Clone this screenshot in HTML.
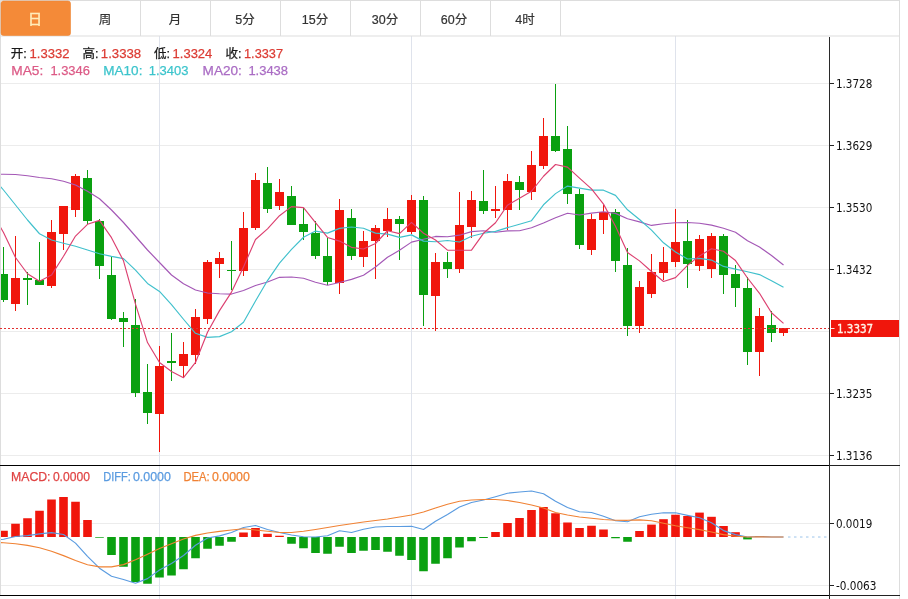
<!DOCTYPE html>
<html lang="zh"><head><meta charset="utf-8"><title>K线图</title>
<style>html,body{margin:0;padding:0;background:#fff}body{width:908px;height:599px;overflow:hidden}</style></head>
<body>
<svg width="908" height="599" viewBox="0 0 908 599" style="display:block">
<rect width="908" height="599" fill="#fff"/>
<rect x="0" y="83" width="829" height="1" fill="#ececec"/>
<rect x="0" y="145" width="829" height="1" fill="#ececec"/>
<rect x="0" y="207" width="829" height="1" fill="#ececec"/>
<rect x="0" y="269" width="829" height="1" fill="#ececec"/>
<rect x="0" y="331" width="829" height="1" fill="#ececec"/>
<rect x="0" y="393" width="829" height="1" fill="#ececec"/>
<rect x="0" y="455" width="829" height="1" fill="#ececec"/>
<rect x="0" y="523" width="829" height="1" fill="#ececec"/>
<rect x="0" y="585" width="829" height="1" fill="#ececec"/>
<rect x="159.0" y="36" width="1" height="563" fill="#dfe3ec"/>
<rect x="411.0" y="36" width="1" height="563" fill="#dfe3ec"/>
<rect x="675.0" y="36" width="1" height="563" fill="#dfe3ec"/>
<rect x="0" y="0" width="900" height="1" fill="#ddd"/>
<rect x="0" y="0" width="1" height="596" fill="#ddd"/>
<rect x="899" y="0" width="1" height="599" fill="#ddd"/>
<rect x="0" y="35.5" width="900" height="1" fill="#ddd"/>
<rect x="140" y="0" width="1" height="36" fill="#ddd"/>
<rect x="210" y="0" width="1" height="36" fill="#ddd"/>
<rect x="280" y="0" width="1" height="36" fill="#ddd"/>
<rect x="350" y="0" width="1" height="36" fill="#ddd"/>
<rect x="420" y="0" width="1" height="36" fill="#ddd"/>
<rect x="490" y="0" width="1" height="36" fill="#ddd"/>
<rect x="560" y="0" width="1" height="36" fill="#ddd"/>
<rect x="1" y="1" width="69.5" height="34.5" rx="2.5" fill="#f48a38" stroke="#ec8433" stroke-width="0.6"/>
<text x="35" y="24.2" font-size="14" text-anchor="middle" fill="#ffedba" stroke="#ffedba" stroke-width="0.5" font-family="Liberation Sans, Noto Sans CJK SC, sans-serif">日</text>
<text x="105" y="24.2" font-size="12.5" text-anchor="middle" fill="#333" stroke="#333" stroke-width="0.2" font-family="Liberation Sans, Noto Sans CJK SC, sans-serif">周</text>
<text x="175" y="24.2" font-size="12.5" text-anchor="middle" fill="#333" stroke="#333" stroke-width="0.2" font-family="Liberation Sans, Noto Sans CJK SC, sans-serif">月</text>
<text x="245" y="24.2" font-size="12.5" text-anchor="middle" fill="#333" stroke="#333" stroke-width="0.2" font-family="Liberation Sans, Noto Sans CJK SC, sans-serif">5分</text>
<text x="315" y="24.2" font-size="12.5" text-anchor="middle" fill="#333" stroke="#333" stroke-width="0.2" font-family="Liberation Sans, Noto Sans CJK SC, sans-serif">15分</text>
<text x="385" y="24.2" font-size="12.5" text-anchor="middle" fill="#333" stroke="#333" stroke-width="0.2" font-family="Liberation Sans, Noto Sans CJK SC, sans-serif">30分</text>
<text x="454" y="24.2" font-size="12.5" text-anchor="middle" fill="#333" stroke="#333" stroke-width="0.2" font-family="Liberation Sans, Noto Sans CJK SC, sans-serif">60分</text>
<text x="525" y="24.2" font-size="12.5" text-anchor="middle" fill="#333" stroke="#333" stroke-width="0.2" font-family="Liberation Sans, Noto Sans CJK SC, sans-serif">4时</text>
<g clip-path="url(#cp)">
<defs><clipPath id="cp"><rect x="1" y="37" width="828" height="560"/></clipPath></defs>
<rect x="3.0" y="247" width="1" height="55" fill="#0aa010"/>
<rect x="-1.0" y="274" width="9" height="26" fill="#0aa010"/>
<rect x="15.0" y="236" width="1" height="75" fill="#f0160c"/>
<rect x="11.0" y="278" width="9" height="26" fill="#f0160c"/>
<rect x="27.0" y="272" width="1" height="33" fill="#0aa010"/>
<rect x="23.0" y="278" width="9" height="2" fill="#0aa010"/>
<rect x="39.0" y="242" width="1" height="43" fill="#0aa010"/>
<rect x="35.0" y="280" width="9" height="5" fill="#0aa010"/>
<rect x="51.0" y="220" width="1" height="68" fill="#f0160c"/>
<rect x="47.0" y="232" width="9" height="54" fill="#f0160c"/>
<rect x="63.0" y="206" width="1" height="44" fill="#f0160c"/>
<rect x="59.0" y="206" width="9" height="28" fill="#f0160c"/>
<rect x="75.0" y="174" width="1" height="43" fill="#f0160c"/>
<rect x="71.0" y="176" width="9" height="34" fill="#f0160c"/>
<rect x="87.0" y="170" width="1" height="54" fill="#0aa010"/>
<rect x="83.0" y="178" width="9" height="43" fill="#0aa010"/>
<rect x="99.0" y="219" width="1" height="60" fill="#0aa010"/>
<rect x="95.0" y="221" width="9" height="45" fill="#0aa010"/>
<rect x="111.0" y="256" width="1" height="64" fill="#0aa010"/>
<rect x="107.0" y="275" width="9" height="44" fill="#0aa010"/>
<rect x="123.0" y="312" width="1" height="35" fill="#0aa010"/>
<rect x="119.0" y="318" width="9" height="4" fill="#0aa010"/>
<rect x="135.0" y="299" width="1" height="98" fill="#0aa010"/>
<rect x="131.0" y="325" width="9" height="68" fill="#0aa010"/>
<rect x="147.0" y="364" width="1" height="60" fill="#0aa010"/>
<rect x="143.0" y="392" width="9" height="21" fill="#0aa010"/>
<rect x="159.0" y="346" width="1" height="106" fill="#f0160c"/>
<rect x="155.0" y="366" width="9" height="48" fill="#f0160c"/>
<rect x="171.0" y="333" width="1" height="48" fill="#0aa010"/>
<rect x="167.0" y="361" width="9" height="2" fill="#0aa010"/>
<rect x="183.0" y="342" width="1" height="35" fill="#f0160c"/>
<rect x="179.0" y="354" width="9" height="12" fill="#f0160c"/>
<rect x="195.0" y="309" width="1" height="55" fill="#f0160c"/>
<rect x="191.0" y="317" width="9" height="38" fill="#f0160c"/>
<rect x="207.0" y="260" width="1" height="64" fill="#f0160c"/>
<rect x="203.0" y="262" width="9" height="57" fill="#f0160c"/>
<rect x="219.0" y="252" width="1" height="26" fill="#f0160c"/>
<rect x="215.0" y="258" width="9" height="6" fill="#f0160c"/>
<rect x="231.0" y="241" width="1" height="49" fill="#0aa010"/>
<rect x="227.0" y="270" width="9" height="1" fill="#0aa010"/>
<rect x="243.0" y="212" width="1" height="64" fill="#f0160c"/>
<rect x="239.0" y="228" width="9" height="43" fill="#f0160c"/>
<rect x="255.0" y="173" width="1" height="57" fill="#f0160c"/>
<rect x="251.0" y="180" width="9" height="48" fill="#f0160c"/>
<rect x="267.0" y="167" width="1" height="46" fill="#0aa010"/>
<rect x="263.0" y="183" width="9" height="26" fill="#0aa010"/>
<rect x="279.0" y="179" width="1" height="31" fill="#f0160c"/>
<rect x="275.0" y="192" width="9" height="14" fill="#f0160c"/>
<rect x="291.0" y="186" width="1" height="39" fill="#0aa010"/>
<rect x="287.0" y="196" width="9" height="29" fill="#0aa010"/>
<rect x="303.0" y="208" width="1" height="32" fill="#0aa010"/>
<rect x="299.0" y="224" width="9" height="8" fill="#0aa010"/>
<rect x="315.0" y="221" width="1" height="38" fill="#0aa010"/>
<rect x="311.0" y="233" width="9" height="23" fill="#0aa010"/>
<rect x="327.0" y="238" width="1" height="47" fill="#0aa010"/>
<rect x="323.0" y="256" width="9" height="26" fill="#0aa010"/>
<rect x="339.0" y="199" width="1" height="95" fill="#f0160c"/>
<rect x="335.0" y="210" width="9" height="73" fill="#f0160c"/>
<rect x="351.0" y="209" width="1" height="51" fill="#0aa010"/>
<rect x="347.0" y="218" width="9" height="38" fill="#0aa010"/>
<rect x="363.0" y="231" width="1" height="36" fill="#f0160c"/>
<rect x="359.0" y="241" width="9" height="16" fill="#f0160c"/>
<rect x="375.0" y="225" width="1" height="54" fill="#f0160c"/>
<rect x="371.0" y="228" width="9" height="13" fill="#f0160c"/>
<rect x="387.0" y="208" width="1" height="29" fill="#f0160c"/>
<rect x="383.0" y="219" width="9" height="12" fill="#f0160c"/>
<rect x="399.0" y="216" width="1" height="44" fill="#0aa010"/>
<rect x="395.0" y="219" width="9" height="5" fill="#0aa010"/>
<rect x="411.0" y="195" width="1" height="39" fill="#f0160c"/>
<rect x="407.0" y="200" width="9" height="32" fill="#f0160c"/>
<rect x="423.0" y="196" width="1" height="130" fill="#0aa010"/>
<rect x="419.0" y="200" width="9" height="95" fill="#0aa010"/>
<rect x="435.0" y="253" width="1" height="78" fill="#f0160c"/>
<rect x="431.0" y="262" width="9" height="34" fill="#f0160c"/>
<rect x="447.0" y="252" width="1" height="26" fill="#0aa010"/>
<rect x="443.0" y="262" width="9" height="7" fill="#0aa010"/>
<rect x="459.0" y="192" width="1" height="81" fill="#f0160c"/>
<rect x="455.0" y="225" width="9" height="44" fill="#f0160c"/>
<rect x="471.0" y="191" width="1" height="47" fill="#f0160c"/>
<rect x="467.0" y="200" width="9" height="27" fill="#f0160c"/>
<rect x="483.0" y="170" width="1" height="44" fill="#0aa010"/>
<rect x="479.0" y="201" width="9" height="10" fill="#0aa010"/>
<rect x="495.0" y="186" width="1" height="32" fill="#f0160c"/>
<rect x="491.0" y="209" width="9" height="2" fill="#f0160c"/>
<rect x="507.0" y="174" width="1" height="56" fill="#f0160c"/>
<rect x="503.0" y="181" width="9" height="29" fill="#f0160c"/>
<rect x="519.0" y="176" width="1" height="34" fill="#0aa010"/>
<rect x="515.0" y="182" width="9" height="8" fill="#0aa010"/>
<rect x="531.0" y="151" width="1" height="49" fill="#f0160c"/>
<rect x="527.0" y="165" width="9" height="27" fill="#f0160c"/>
<rect x="543.0" y="118" width="1" height="51" fill="#f0160c"/>
<rect x="539.0" y="136" width="9" height="30" fill="#f0160c"/>
<rect x="555.0" y="84" width="1" height="68" fill="#0aa010"/>
<rect x="551.0" y="136" width="9" height="15" fill="#0aa010"/>
<rect x="567.0" y="126" width="1" height="78" fill="#0aa010"/>
<rect x="563.0" y="149" width="9" height="45" fill="#0aa010"/>
<rect x="579.0" y="189" width="1" height="60" fill="#0aa010"/>
<rect x="575.0" y="194" width="9" height="51" fill="#0aa010"/>
<rect x="591.0" y="214" width="1" height="41" fill="#f0160c"/>
<rect x="587.0" y="219" width="9" height="31" fill="#f0160c"/>
<rect x="603.0" y="205" width="1" height="29" fill="#f0160c"/>
<rect x="599.0" y="212" width="9" height="8" fill="#f0160c"/>
<rect x="615.0" y="209" width="1" height="63" fill="#0aa010"/>
<rect x="611.0" y="212" width="9" height="49" fill="#0aa010"/>
<rect x="627.0" y="248" width="1" height="88" fill="#0aa010"/>
<rect x="623.0" y="265" width="9" height="61" fill="#0aa010"/>
<rect x="639.0" y="281" width="1" height="52" fill="#f0160c"/>
<rect x="635.0" y="287" width="9" height="39" fill="#f0160c"/>
<rect x="651.0" y="254" width="1" height="44" fill="#f0160c"/>
<rect x="647.0" y="272" width="9" height="22" fill="#f0160c"/>
<rect x="663.0" y="247" width="1" height="33" fill="#f0160c"/>
<rect x="659.0" y="262" width="9" height="11" fill="#f0160c"/>
<rect x="675.0" y="209" width="1" height="58" fill="#f0160c"/>
<rect x="671.0" y="242" width="9" height="20" fill="#f0160c"/>
<rect x="687.0" y="220" width="1" height="68" fill="#0aa010"/>
<rect x="683.0" y="241" width="9" height="23" fill="#0aa010"/>
<rect x="699.0" y="235" width="1" height="36" fill="#f0160c"/>
<rect x="695.0" y="239" width="9" height="27" fill="#f0160c"/>
<rect x="711.0" y="233" width="1" height="45" fill="#f0160c"/>
<rect x="707.0" y="236" width="9" height="33" fill="#f0160c"/>
<rect x="723.0" y="234" width="1" height="60" fill="#0aa010"/>
<rect x="719.0" y="236" width="9" height="39" fill="#0aa010"/>
<rect x="735.0" y="265" width="1" height="42" fill="#0aa010"/>
<rect x="731.0" y="274" width="9" height="14" fill="#0aa010"/>
<rect x="747.0" y="277" width="1" height="88" fill="#0aa010"/>
<rect x="743.0" y="288" width="9" height="64" fill="#0aa010"/>
<rect x="759.0" y="308" width="1" height="68" fill="#f0160c"/>
<rect x="755.0" y="316" width="9" height="36" fill="#f0160c"/>
<rect x="771.0" y="311" width="1" height="31" fill="#0aa010"/>
<rect x="767.0" y="325" width="9" height="8" fill="#0aa010"/>
<rect x="783.0" y="328" width="1" height="8" fill="#f0160c"/>
<rect x="779.0" y="328" width="9" height="5" fill="#f0160c"/>
<path d="M-8.50 174.20C-8.50 174.20 3.50 174.30 3.50 174.30C3.50 174.30 15.50 174.50 15.50 174.50C15.50 174.50 27.50 175.75 27.50 175.75C27.50 175.75 39.50 177.50 39.50 177.50C39.50 177.50 51.50 178.75 51.50 178.75C51.50 178.75 63.50 181.25 63.50 181.25C63.50 181.25 75.50 185.00 75.50 185.00C75.50 185.00 87.50 191.25 87.50 191.25C87.50 191.25 99.50 198.75 99.50 198.75C99.50 198.75 111.50 210.00 111.50 210.00C111.50 210.00 123.50 222.50 123.50 222.50C123.50 222.50 135.50 236.25 135.50 236.25C135.50 236.25 147.50 250.00 147.50 250.00C147.50 250.00 159.50 262.50 159.50 262.50C159.50 262.50 171.50 275.00 171.50 275.00C171.50 275.00 183.50 283.75 183.50 283.75C183.50 283.75 195.50 290.00 195.50 290.00C195.50 290.00 207.50 293.00 207.50 293.00C207.50 293.00 219.50 293.75 219.50 293.75C219.50 293.75 231.50 294.07 231.50 294.07C231.50 294.07 243.50 290.43 243.50 290.43C243.50 290.43 255.50 285.55 255.50 285.55C255.50 285.55 267.50 281.99 267.50 281.99C267.50 281.99 279.50 277.32 279.50 277.32C279.50 277.32 291.50 276.95 291.50 276.95C291.50 276.95 303.50 278.25 303.50 278.25C303.50 278.25 315.50 282.21 315.50 282.21C315.50 282.21 327.50 285.27 327.50 285.27C327.50 285.27 339.50 282.50 339.50 282.50C339.50 282.50 351.50 279.38 351.50 279.38C351.50 279.38 363.50 275.29 363.50 275.29C363.50 275.29 375.50 267.04 375.50 267.04C375.50 267.04 387.50 257.32 387.50 257.32C387.50 257.32 399.50 250.28 399.50 250.28C399.50 250.28 411.50 242.11 411.50 242.11C411.50 242.11 423.50 239.19 423.50 239.19C423.50 239.19 435.50 236.44 435.50 236.44C435.50 236.44 447.50 236.80 447.50 236.80C447.50 236.80 459.50 235.18 459.50 235.18C459.50 235.18 471.50 231.62 471.50 231.62C471.50 231.62 483.50 230.79 483.50 230.79C483.50 230.79 495.50 232.25 495.50 232.25C495.50 232.25 507.50 230.88 507.50 230.88C507.50 230.88 519.50 230.79 519.50 230.79C519.50 230.79 531.50 227.79 531.50 227.79C531.50 227.79 543.50 222.95 543.50 222.95C543.50 222.95 555.50 217.71 555.50 217.71C555.50 217.71 567.50 213.28 567.50 213.28C567.50 213.28 579.50 215.03 579.50 215.03C579.50 215.03 591.50 213.18 591.50 213.18C591.50 213.18 603.50 211.73 603.50 211.73C603.50 211.73 615.50 213.39 615.50 213.39C615.50 213.39 627.50 218.73 627.50 218.73C627.50 218.73 639.50 221.84 639.50 221.84C639.50 221.84 651.50 225.44 651.50 225.44C651.50 225.44 663.50 223.79 663.50 223.79C663.50 223.79 675.50 222.78 675.50 222.78C675.50 222.78 687.50 222.54 687.50 222.54C687.50 222.54 699.50 223.26 699.50 223.26C699.50 223.26 711.50 225.08 711.50 225.08C711.50 225.08 723.50 228.29 723.50 228.29C723.50 228.29 735.50 232.23 735.50 232.23C735.50 232.23 747.50 240.76 747.50 240.76C747.50 240.76 759.50 247.04 759.50 247.04C759.50 247.04 771.50 255.44 771.50 255.44C771.50 255.44 783.50 265.07 783.50 265.07" fill="none" stroke="#a458b6" stroke-width="1.15" stroke-linejoin="round"/>
<path d="M-8.50 176.00C-8.50 176.00 3.50 190.00 3.50 190.00C3.50 190.00 15.50 205.00 15.50 205.00C15.50 205.00 27.50 220.00 27.50 220.00C27.50 220.00 39.50 233.75 39.50 233.75C39.50 233.75 51.50 240.00 51.50 240.00C51.50 240.00 63.50 243.25 63.50 243.25C63.50 243.25 75.50 246.25 75.50 246.25C75.50 246.25 87.50 250.00 87.50 250.00C87.50 250.00 99.50 253.75 99.50 253.75C99.50 253.75 111.50 256.38 111.50 256.38C111.50 256.38 123.50 258.57 123.50 258.57C123.50 258.57 135.50 270.12 135.50 270.12C135.50 270.12 147.50 283.43 147.50 283.43C147.50 283.43 159.50 291.48 159.50 291.48C159.50 291.48 171.50 304.55 171.50 304.55C171.50 304.55 183.50 319.25 183.50 319.25C183.50 319.25 195.50 333.32 195.50 333.32C195.50 333.32 207.50 337.40 207.50 337.40C207.50 337.40 219.50 336.60 219.50 336.60C219.50 336.60 231.50 331.77 231.50 331.77C231.50 331.77 243.50 322.27 243.50 322.27C243.50 322.27 255.50 300.98 255.50 300.98C255.50 300.98 267.50 280.55 267.50 280.55C267.50 280.55 279.50 263.18 279.50 263.18C279.50 263.18 291.50 249.35 291.50 249.35C291.50 249.35 303.50 237.25 303.50 237.25C303.50 237.25 315.50 231.10 315.50 231.10C315.50 231.10 327.50 233.15 327.50 233.15C327.50 233.15 339.50 228.40 339.50 228.40C339.50 228.40 351.50 226.97 351.50 226.97C351.50 226.97 363.50 228.30 363.50 228.30C363.50 228.30 375.50 233.10 375.50 233.10C375.50 233.10 387.50 234.10 387.50 234.10C387.50 234.10 399.50 237.38 399.50 237.38C399.50 237.38 411.50 234.88 411.50 234.88C411.50 234.88 423.50 241.12 423.50 241.12C423.50 241.12 435.50 241.78 435.50 241.78C435.50 241.78 447.50 240.45 447.50 240.45C447.50 240.45 459.50 241.95 459.50 241.95C459.50 241.95 471.50 236.28 471.50 236.28C471.50 236.28 483.50 233.28 483.50 233.28C483.50 233.28 495.50 231.40 495.50 231.40C495.50 231.40 507.50 227.65 507.50 227.65C507.50 227.65 519.50 224.20 519.50 224.20C519.50 224.20 531.50 220.70 531.50 220.70C531.50 220.70 543.50 204.78 543.50 204.78C543.50 204.78 555.50 193.63 555.50 193.63C555.50 193.63 567.50 186.11 567.50 186.11C567.50 186.11 579.50 188.11 579.50 188.11C579.50 188.11 591.50 190.08 591.50 190.08C591.50 190.08 603.50 190.19 603.50 190.19C603.50 190.19 615.50 195.38 615.50 195.38C615.50 195.38 627.50 209.81 627.50 209.81C627.50 209.81 639.50 219.48 639.50 219.48C639.50 219.48 651.50 230.19 651.50 230.19C651.50 230.19 663.50 242.81 663.50 242.81C663.50 242.81 675.50 251.93 675.50 251.93C675.50 251.93 687.50 258.98 687.50 258.98C687.50 258.98 699.50 258.40 699.50 258.40C699.50 258.40 711.50 260.07 711.50 260.07C711.50 260.07 723.50 266.40 723.50 266.40C723.50 266.40 735.50 269.07 735.50 269.07C735.50 269.07 747.50 271.70 747.50 271.70C747.50 271.70 759.50 274.60 759.50 274.60C759.50 274.60 771.50 280.70 771.50 280.70C771.50 280.70 783.50 287.32 783.50 287.32" fill="none" stroke="#40c0cc" stroke-width="1.15" stroke-linejoin="round"/>
<path d="M-8.50 212.00C-8.50 212.00 3.50 232.50 3.50 232.50C3.50 232.50 15.50 257.50 15.50 257.50C15.50 257.50 27.50 273.75 27.50 273.75C27.50 273.75 39.50 281.25 39.50 281.25C39.50 281.25 51.50 275.10 51.50 275.10C51.50 275.10 63.50 256.30 63.50 256.30C63.50 256.30 75.50 236.05 75.50 236.05C75.50 236.05 87.50 224.30 87.50 224.30C87.50 224.30 99.50 220.40 99.50 220.40C99.50 220.40 111.50 237.65 111.50 237.65C111.50 237.65 123.50 260.85 123.50 260.85C123.50 260.85 135.50 304.20 135.50 304.20C135.50 304.20 147.50 342.55 147.50 342.55C147.50 342.55 159.50 362.55 159.50 362.55C159.50 362.55 171.50 371.45 171.50 371.45C171.50 371.45 183.50 377.65 183.50 377.65C183.50 377.65 195.50 362.45 195.50 362.45C195.50 362.45 207.50 332.25 207.50 332.25C207.50 332.25 219.50 310.65 219.50 310.65C219.50 310.65 231.50 292.10 231.50 292.10C231.50 292.10 243.50 266.90 243.50 266.90C243.50 266.90 255.50 239.50 255.50 239.50C255.50 239.50 267.50 228.85 267.50 228.85C267.50 228.85 279.50 215.70 279.50 215.70C279.50 215.70 291.50 206.60 291.50 206.60C291.50 206.60 303.50 207.60 303.50 207.60C303.50 207.60 315.50 222.70 315.50 222.70C315.50 222.70 327.50 237.45 327.50 237.45C327.50 237.45 339.50 241.10 339.50 241.10C339.50 241.10 351.50 247.35 351.50 247.35C351.50 247.35 363.50 249.00 363.50 249.00C363.50 249.00 375.50 243.50 375.50 243.50C375.50 243.50 387.50 230.75 387.50 230.75C387.50 230.75 399.50 233.65 399.50 233.65C399.50 233.65 411.50 222.40 411.50 222.40C411.50 222.40 423.50 233.25 423.50 233.25C423.50 233.25 435.50 240.05 435.50 240.05C435.50 240.05 447.50 250.15 447.50 250.15C447.50 250.15 459.50 250.25 459.50 250.25C459.50 250.25 471.50 250.15 471.50 250.15C471.50 250.15 483.50 233.30 483.50 233.30C483.50 233.30 495.50 222.75 495.50 222.75C495.50 222.75 507.50 205.15 507.50 205.15C507.50 205.15 519.50 198.15 519.50 198.15C519.50 198.15 531.50 191.25 531.50 191.25C531.50 191.25 543.50 176.25 543.50 176.25C543.50 176.25 555.50 164.52 555.50 164.52C555.50 164.52 567.50 167.07 567.50 167.07C567.50 167.07 579.50 178.07 579.50 178.07C579.50 178.07 591.50 188.92 591.50 188.92C591.50 188.92 603.50 204.12 603.50 204.12C603.50 204.12 615.50 226.25 615.50 226.25C615.50 226.25 627.50 252.55 627.50 252.55C627.50 252.55 639.50 260.90 639.50 260.90C639.50 260.90 651.50 271.45 651.50 271.45C651.50 271.45 663.50 281.50 663.50 281.50C663.50 281.50 675.50 277.60 675.50 277.60C675.50 277.60 687.50 265.40 687.50 265.40C687.50 265.40 699.50 255.90 699.50 255.90C699.50 255.90 711.50 248.70 711.50 248.70C711.50 248.70 723.50 251.30 723.50 251.30C723.50 251.30 735.50 260.55 735.50 260.55C735.50 260.55 747.50 278.00 747.50 278.00C747.50 278.00 759.50 293.30 759.50 293.30C759.50 293.30 771.50 312.70 771.50 312.70C771.50 312.70 783.50 323.35 783.50 323.35" fill="none" stroke="#dc4070" stroke-width="1.15" stroke-linejoin="round"/>
<rect x="-0.7999999999999998" y="530.75" width="8.6" height="6.25" fill="#f0160c"/>
<rect x="11.2" y="523.75" width="8.6" height="13.25" fill="#f0160c"/>
<rect x="23.2" y="518.25" width="8.6" height="18.75" fill="#f0160c"/>
<rect x="35.2" y="510.75" width="8.6" height="26.25" fill="#f0160c"/>
<rect x="47.2" y="499.5" width="8.6" height="37.50" fill="#f0160c"/>
<rect x="59.2" y="497.0" width="8.6" height="40.00" fill="#f0160c"/>
<rect x="71.2" y="501.75" width="8.6" height="35.25" fill="#f0160c"/>
<rect x="83.2" y="520.0" width="8.6" height="17.00" fill="#f0160c"/>
<rect x="95.2" y="537" width="8.6" height="0.70" fill="#0aa010"/>
<rect x="107.2" y="537" width="8.6" height="18.00" fill="#0aa010"/>
<rect x="119.2" y="537" width="8.6" height="29.75" fill="#0aa010"/>
<rect x="131.2" y="537" width="8.6" height="45.00" fill="#0aa010"/>
<rect x="143.2" y="537" width="8.6" height="46.75" fill="#0aa010"/>
<rect x="155.2" y="537" width="8.6" height="40.50" fill="#0aa010"/>
<rect x="167.2" y="537" width="8.6" height="38.50" fill="#0aa010"/>
<rect x="179.2" y="537" width="8.6" height="32.25" fill="#0aa010"/>
<rect x="191.2" y="537" width="8.6" height="21.25" fill="#0aa010"/>
<rect x="203.2" y="537" width="8.6" height="11.75" fill="#0aa010"/>
<rect x="215.2" y="537" width="8.6" height="8.75" fill="#0aa010"/>
<rect x="227.2" y="537" width="8.6" height="4.75" fill="#0aa010"/>
<rect x="239.2" y="532.5" width="8.6" height="4.50" fill="#f0160c"/>
<rect x="251.2" y="528.0" width="8.6" height="9.00" fill="#f0160c"/>
<rect x="263.2" y="533.75" width="8.6" height="3.25" fill="#f0160c"/>
<rect x="275.2" y="535.75" width="8.6" height="1.25" fill="#f0160c"/>
<rect x="287.2" y="537" width="8.6" height="6.75" fill="#0aa010"/>
<rect x="299.2" y="537" width="8.6" height="11.25" fill="#0aa010"/>
<rect x="311.2" y="537" width="8.6" height="16.00" fill="#0aa010"/>
<rect x="323.2" y="537" width="8.6" height="16.75" fill="#0aa010"/>
<rect x="335.2" y="537" width="8.6" height="9.75" fill="#0aa010"/>
<rect x="347.2" y="537" width="8.6" height="16.00" fill="#0aa010"/>
<rect x="359.2" y="537" width="8.6" height="13.75" fill="#0aa010"/>
<rect x="371.2" y="537" width="8.6" height="13.00" fill="#0aa010"/>
<rect x="383.2" y="537" width="8.6" height="14.75" fill="#0aa010"/>
<rect x="395.2" y="537" width="8.6" height="18.75" fill="#0aa010"/>
<rect x="407.2" y="537" width="8.6" height="23.00" fill="#0aa010"/>
<rect x="419.2" y="537" width="8.6" height="34.25" fill="#0aa010"/>
<rect x="431.2" y="537" width="8.6" height="26.75" fill="#0aa010"/>
<rect x="443.2" y="537" width="8.6" height="21.25" fill="#0aa010"/>
<rect x="455.2" y="537" width="8.6" height="10.50" fill="#0aa010"/>
<rect x="467.2" y="537" width="8.6" height="4.25" fill="#0aa010"/>
<rect x="479.2" y="537" width="8.6" height="1.00" fill="#0aa010"/>
<rect x="491.2" y="532.0" width="8.6" height="5.00" fill="#f0160c"/>
<rect x="503.2" y="523.0" width="8.6" height="14.00" fill="#f0160c"/>
<rect x="515.2" y="518.0" width="8.6" height="19.00" fill="#f0160c"/>
<rect x="527.2" y="510.0" width="8.6" height="27.00" fill="#f0160c"/>
<rect x="539.2" y="507.0" width="8.6" height="30.00" fill="#f0160c"/>
<rect x="551.2" y="513.25" width="8.6" height="23.75" fill="#f0160c"/>
<rect x="563.2" y="522.5" width="8.6" height="14.50" fill="#f0160c"/>
<rect x="575.2" y="528.0" width="8.6" height="9.00" fill="#f0160c"/>
<rect x="587.2" y="525.75" width="8.6" height="11.25" fill="#f0160c"/>
<rect x="599.2" y="529.5" width="8.6" height="7.50" fill="#f0160c"/>
<rect x="611.2" y="537" width="8.6" height="1.25" fill="#0aa010"/>
<rect x="623.2" y="537" width="8.6" height="4.75" fill="#0aa010"/>
<rect x="635.2" y="531.0" width="8.6" height="6.00" fill="#f0160c"/>
<rect x="647.2" y="524.6" width="8.6" height="12.40" fill="#f0160c"/>
<rect x="659.2" y="519.2" width="8.6" height="17.80" fill="#f0160c"/>
<rect x="671.2" y="514.7" width="8.6" height="22.30" fill="#f0160c"/>
<rect x="683.2" y="516.0" width="8.6" height="21.00" fill="#f0160c"/>
<rect x="695.2" y="512.6" width="8.6" height="24.40" fill="#f0160c"/>
<rect x="707.2" y="516.8" width="8.6" height="20.20" fill="#f0160c"/>
<rect x="719.2" y="526.0" width="8.6" height="11.00" fill="#f0160c"/>
<rect x="731.2" y="532.2" width="8.6" height="4.80" fill="#f0160c"/>
<rect x="743.2" y="537" width="8.6" height="2.40" fill="#0aa010"/>
<rect x="755.2" y="536.0" width="8.6" height="1.00" fill="#f0160c"/>
<path d="M-8.50 540.50C-8.50 540.50 3.50 539.20 3.50 539.20C3.50 539.20 15.50 536.50 15.50 536.50C15.50 536.50 27.50 535.60 27.50 535.60C27.50 535.60 39.50 533.90 39.50 533.90C39.50 533.90 51.50 532.60 51.50 532.60C51.50 532.60 63.50 534.50 63.50 534.50C63.50 534.50 75.50 543.10 75.50 543.10C75.50 543.10 87.50 556.30 87.50 556.30C87.50 556.30 99.50 568.20 99.50 568.20C99.50 568.20 111.50 576.20 111.50 576.20C111.50 576.20 123.50 579.50 123.50 579.50C123.50 579.50 135.50 583.20 135.50 583.20C135.50 583.20 147.50 578.60 147.50 578.60C147.50 578.60 159.50 570.00 159.50 570.00C159.50 570.00 171.50 563.40 171.50 563.40C171.50 563.40 183.50 555.50 183.50 555.50C183.50 555.50 195.50 545.20 195.50 545.20C195.50 545.20 207.50 538.00 207.50 538.00C207.50 538.00 219.50 535.90 219.50 535.90C219.50 535.90 231.50 532.50 231.50 532.50C231.50 532.50 243.50 527.50 243.50 527.50C243.50 527.50 255.50 525.50 255.50 525.50C255.50 525.50 267.50 529.50 267.50 529.50C267.50 529.50 279.50 532.50 279.50 532.50C279.50 532.50 291.50 535.00 291.50 535.00C291.50 535.00 303.50 536.75 303.50 536.75C303.50 536.75 315.50 537.00 315.50 537.00C315.50 537.00 327.50 535.75 327.50 535.75C327.50 535.75 339.50 530.75 339.50 530.75C339.50 530.75 351.50 532.50 351.50 532.50C351.50 532.50 363.50 529.25 363.50 529.25C363.50 529.25 375.50 527.00 375.50 527.00C375.50 527.00 387.50 526.50 387.50 526.50C387.50 526.50 399.50 526.50 399.50 526.50C399.50 526.50 411.50 526.25 411.50 526.25C411.50 526.25 423.50 529.50 423.50 529.50C423.50 529.50 435.50 521.25 435.50 521.25C435.50 521.25 447.50 514.50 447.50 514.50C447.50 514.50 459.50 507.00 459.50 507.00C459.50 507.00 471.50 502.50 471.50 502.50C471.50 502.50 483.50 500.00 483.50 500.00C483.50 500.00 495.50 496.75 495.50 496.75C495.50 496.75 507.50 493.25 507.50 493.25C507.50 493.25 519.50 492.00 519.50 492.00C519.50 492.00 531.50 491.00 531.50 491.00C531.50 491.00 543.50 493.75 543.50 493.75C543.50 493.75 555.50 501.25 555.50 501.25C555.50 501.25 567.50 507.50 567.50 507.50C567.50 507.50 579.50 511.75 579.50 511.75C579.50 511.75 591.50 512.50 591.50 512.50C591.50 512.50 603.50 516.25 603.50 516.25C603.50 516.25 615.50 520.75 615.50 520.75C615.50 520.75 627.50 521.75 627.50 521.75C627.50 521.75 639.50 516.80 639.50 516.80C639.50 516.80 651.50 514.20 651.50 514.20C651.50 514.20 663.50 512.80 663.50 512.80C663.50 512.80 675.50 512.80 675.50 512.80C675.50 512.80 687.50 515.40 687.50 515.40C687.50 515.40 699.50 517.80 699.50 517.80C699.50 517.80 711.50 522.70 711.50 522.70C711.50 522.70 723.50 530.60 723.50 530.60C723.50 530.60 735.50 534.60 735.50 534.60C735.50 534.60 747.50 537.00 747.50 537.00C747.50 537.00 759.50 536.50 759.50 536.50C759.50 536.50 771.50 537.00 771.50 537.00C771.50 537.00 783.50 537.00 783.50 537.00" fill="none" stroke="#5a9be0" stroke-width="1.15" stroke-linejoin="round"/>
<path d="M-8.50 542.00C-8.50 542.00 3.50 542.80 3.50 542.80C3.50 542.80 15.50 543.80 15.50 543.80C15.50 543.80 27.50 545.40 27.50 545.40C27.50 545.40 39.50 547.80 39.50 547.80C39.50 547.80 51.50 551.20 51.50 551.20C51.50 551.20 63.50 555.60 63.50 555.60C63.50 555.60 75.50 560.50 75.50 560.50C75.50 560.50 87.50 564.70 87.50 564.70C87.50 564.70 99.50 566.90 99.50 566.90C99.50 566.90 111.50 566.90 111.50 566.90C111.50 566.90 123.50 564.60 123.50 564.60C123.50 564.60 135.50 559.80 135.50 559.80C135.50 559.80 147.50 554.20 147.50 554.20C147.50 554.20 159.50 548.50 159.50 548.50C159.50 548.50 171.50 543.80 171.50 543.80C171.50 543.80 183.50 539.00 183.50 539.00C183.50 539.00 195.50 535.40 195.50 535.40C195.50 535.40 207.50 533.00 207.50 533.00C207.50 533.00 219.50 531.40 219.50 531.40C219.50 531.40 231.50 530.00 231.50 530.00C231.50 530.00 243.50 528.75 243.50 528.75C243.50 528.75 255.50 530.00 255.50 530.00C255.50 530.00 267.50 531.25 267.50 531.25C267.50 531.25 279.50 532.50 279.50 532.50C279.50 532.50 291.50 532.50 291.50 532.50C291.50 532.50 303.50 531.25 303.50 531.25C303.50 531.25 315.50 529.50 315.50 529.50C315.50 529.50 327.50 527.50 327.50 527.50C327.50 527.50 339.50 525.50 339.50 525.50C339.50 525.50 351.50 523.75 351.50 523.75C351.50 523.75 363.50 522.00 363.50 522.00C363.50 522.00 375.50 520.50 375.50 520.50C375.50 520.50 387.50 519.00 387.50 519.00C387.50 519.00 399.50 517.00 399.50 517.00C399.50 517.00 411.50 515.00 411.50 515.00C411.50 515.00 423.50 512.00 423.50 512.00C423.50 512.00 435.50 508.00 435.50 508.00C435.50 508.00 447.50 504.25 447.50 504.25C447.50 504.25 459.50 501.25 459.50 501.25C459.50 501.25 471.50 500.00 471.50 500.00C471.50 500.00 483.50 499.50 483.50 499.50C483.50 499.50 495.50 499.50 495.50 499.50C495.50 499.50 507.50 500.50 507.50 500.50C507.50 500.50 519.50 502.50 519.50 502.50C519.50 502.50 531.50 505.00 531.50 505.00C531.50 505.00 543.50 508.00 543.50 508.00C543.50 508.00 555.50 512.50 555.50 512.50C555.50 512.50 567.50 515.00 567.50 515.00C567.50 515.00 579.50 517.00 579.50 517.00C579.50 517.00 591.50 518.25 591.50 518.25C591.50 518.25 603.50 519.50 603.50 519.50C603.50 519.50 615.50 520.25 615.50 520.25C615.50 520.25 627.50 520.30 627.50 520.30C627.50 520.30 639.50 519.90 639.50 519.90C639.50 519.90 651.50 520.70 651.50 520.70C651.50 520.70 663.50 523.30 663.50 523.30C663.50 523.30 675.50 525.70 675.50 525.70C675.50 525.70 687.50 527.70 687.50 527.70C687.50 527.70 699.50 529.60 699.50 529.60C699.50 529.60 711.50 532.00 711.50 532.00C711.50 532.00 723.50 534.60 723.50 534.60C723.50 534.60 735.50 536.20 735.50 536.20C735.50 536.20 747.50 537.00 747.50 537.00C747.50 537.00 759.50 536.80 759.50 536.80C759.50 536.80 771.50 537.00 771.50 537.00C771.50 537.00 783.50 537.00 783.50 537.00" fill="none" stroke="#f08234" stroke-width="1.15" stroke-linejoin="round"/>
</g>
<line x1="0" y1="328.5" x2="829" y2="328.5" stroke="#e23030" stroke-width="1" stroke-dasharray="2 2"/>
<line x1="788" y1="537" x2="829" y2="537" stroke="#9cc4ea" stroke-width="1" stroke-dasharray="2.5 3.5"/>
<rect x="0" y="465" width="829" height="1" fill="#000"/>
<rect x="829" y="465" width="71" height="1" fill="#222"/>
<rect x="0" y="595" width="829" height="1" fill="#000"/>
<rect x="829" y="595" width="71" height="1" fill="#222"/>
<rect x="829" y="37" width="1" height="562" fill="#2a2a2a"/>
<rect x="830" y="83" width="4" height="1" fill="#222"/>
<text x="835.9" y="87.5" font-size="11.5" fill="#111" textLength="36.4" lengthAdjust="spacingAndGlyphs" font-family="DejaVu Sans Condensed, DejaVu Sans, Liberation Sans, sans-serif">1.3728</text>
<rect x="830" y="145" width="4" height="1" fill="#222"/>
<text x="835.9" y="149.5" font-size="11.5" fill="#111" textLength="36.4" lengthAdjust="spacingAndGlyphs" font-family="DejaVu Sans Condensed, DejaVu Sans, Liberation Sans, sans-serif">1.3629</text>
<rect x="830" y="207" width="4" height="1" fill="#222"/>
<text x="835.9" y="211.5" font-size="11.5" fill="#111" textLength="36.4" lengthAdjust="spacingAndGlyphs" font-family="DejaVu Sans Condensed, DejaVu Sans, Liberation Sans, sans-serif">1.3530</text>
<rect x="830" y="269" width="4" height="1" fill="#222"/>
<text x="835.9" y="273.5" font-size="11.5" fill="#111" textLength="36.4" lengthAdjust="spacingAndGlyphs" font-family="DejaVu Sans Condensed, DejaVu Sans, Liberation Sans, sans-serif">1.3432</text>
<rect x="830" y="393" width="4" height="1" fill="#222"/>
<text x="835.9" y="397.5" font-size="11.5" fill="#111" textLength="36.4" lengthAdjust="spacingAndGlyphs" font-family="DejaVu Sans Condensed, DejaVu Sans, Liberation Sans, sans-serif">1.3235</text>
<rect x="830" y="455" width="4" height="1" fill="#222"/>
<text x="835.9" y="459.5" font-size="11.5" fill="#111" textLength="36.4" lengthAdjust="spacingAndGlyphs" font-family="DejaVu Sans Condensed, DejaVu Sans, Liberation Sans, sans-serif">1.3136</text>
<rect x="830" y="523" width="4" height="1" fill="#222"/>
<text x="835.9" y="527.5" font-size="11.5" fill="#111" textLength="36.4" lengthAdjust="spacingAndGlyphs" font-family="DejaVu Sans Condensed, DejaVu Sans, Liberation Sans, sans-serif">0.0019</text>
<rect x="830" y="585" width="4" height="1" fill="#222"/>
<text x="835.9" y="589.5" font-size="11.5" fill="#111" textLength="40.6" lengthAdjust="spacingAndGlyphs" font-family="DejaVu Sans Condensed, DejaVu Sans, Liberation Sans, sans-serif">-0.0063</text>
<rect x="831" y="320" width="68" height="17" fill="#f0160c"/>
<rect x="831" y="328" width="3.5" height="1" fill="#ffe8e0"/>
<text x="837" y="332.9" font-size="11.5" fill="#fff6ea" stroke="#fff6ea" stroke-width="0.3" textLength="36.2" lengthAdjust="spacingAndGlyphs" font-family="DejaVu Sans Condensed, DejaVu Sans, Liberation Sans, sans-serif">1.3337</text>
<text x="10.7" y="57.8" font-size="12.5" fill="#1a1a1a" stroke="#1a1a1a" stroke-width="0.25" textLength="16" lengthAdjust="spacingAndGlyphs" font-family="Liberation Sans, Noto Sans CJK SC, sans-serif">开:</text>
<text x="29.5" y="57.8" font-size="13.5" fill="#dc3c34" stroke="#dc3c34" stroke-width="0.25" textLength="39.9" lengthAdjust="spacingAndGlyphs" font-family="Liberation Sans, Noto Sans CJK SC, sans-serif">1.3332</text>
<text x="82.6" y="57.8" font-size="12.5" fill="#1a1a1a" stroke="#1a1a1a" stroke-width="0.25" textLength="16" lengthAdjust="spacingAndGlyphs" font-family="Liberation Sans, Noto Sans CJK SC, sans-serif">高:</text>
<text x="100.8" y="57.8" font-size="13.5" fill="#dc3c34" stroke="#dc3c34" stroke-width="0.25" textLength="40.4" lengthAdjust="spacingAndGlyphs" font-family="Liberation Sans, Noto Sans CJK SC, sans-serif">1.3338</text>
<text x="154.1" y="57.8" font-size="12.5" fill="#1a1a1a" stroke="#1a1a1a" stroke-width="0.25" textLength="16" lengthAdjust="spacingAndGlyphs" font-family="Liberation Sans, Noto Sans CJK SC, sans-serif">低:</text>
<text x="172.6" y="57.8" font-size="13.5" fill="#dc3c34" stroke="#dc3c34" stroke-width="0.25" textLength="39.7" lengthAdjust="spacingAndGlyphs" font-family="Liberation Sans, Noto Sans CJK SC, sans-serif">1.3324</text>
<text x="225.5" y="57.8" font-size="12.5" fill="#1a1a1a" stroke="#1a1a1a" stroke-width="0.25" textLength="16" lengthAdjust="spacingAndGlyphs" font-family="Liberation Sans, Noto Sans CJK SC, sans-serif">收:</text>
<text x="244" y="57.8" font-size="13.5" fill="#dc3c34" stroke="#dc3c34" stroke-width="0.25" textLength="39" lengthAdjust="spacingAndGlyphs" font-family="Liberation Sans, Noto Sans CJK SC, sans-serif">1.3337</text>
<text x="11.3" y="75.4" font-size="13.5" fill="#dc5a86" stroke="#dc5a86" stroke-width="0.25" textLength="32" lengthAdjust="spacingAndGlyphs" font-family="Liberation Sans, Noto Sans CJK SC, sans-serif">MA5:</text>
<text x="50.4" y="75.4" font-size="13.5" fill="#dc5a86" stroke="#dc5a86" stroke-width="0.25" textLength="39.5" lengthAdjust="spacingAndGlyphs" font-family="Liberation Sans, Noto Sans CJK SC, sans-serif">1.3346</text>
<text x="103.3" y="75.4" font-size="13.5" fill="#3cc4cc" stroke="#3cc4cc" stroke-width="0.25" textLength="39.1" lengthAdjust="spacingAndGlyphs" font-family="Liberation Sans, Noto Sans CJK SC, sans-serif">MA10:</text>
<text x="148.8" y="75.4" font-size="13.5" fill="#3cc4cc" stroke="#3cc4cc" stroke-width="0.25" textLength="39.7" lengthAdjust="spacingAndGlyphs" font-family="Liberation Sans, Noto Sans CJK SC, sans-serif">1.3403</text>
<text x="202.6" y="75.4" font-size="13.5" fill="#aa6cc4" stroke="#aa6cc4" stroke-width="0.25" textLength="39.2" lengthAdjust="spacingAndGlyphs" font-family="Liberation Sans, Noto Sans CJK SC, sans-serif">MA20:</text>
<text x="248.4" y="75.4" font-size="13.5" fill="#aa6cc4" stroke="#aa6cc4" stroke-width="0.25" textLength="39.6" lengthAdjust="spacingAndGlyphs" font-family="Liberation Sans, Noto Sans CJK SC, sans-serif">1.3438</text>
<text x="11" y="480.7" font-size="13" fill="#e04444" stroke="#e04444" stroke-width="0.25" textLength="39.5" lengthAdjust="spacingAndGlyphs" font-family="Liberation Sans, Noto Sans CJK SC, sans-serif">MACD:</text>
<text x="52.9" y="480.7" font-size="13" fill="#e04444" stroke="#e04444" stroke-width="0.25" textLength="37" lengthAdjust="spacingAndGlyphs" font-family="Liberation Sans, Noto Sans CJK SC, sans-serif">0.0000</text>
<text x="103.2" y="480.7" font-size="13" fill="#5a9be0" stroke="#5a9be0" stroke-width="0.25" textLength="27.6" lengthAdjust="spacingAndGlyphs" font-family="Liberation Sans, Noto Sans CJK SC, sans-serif">DIFF:</text>
<text x="132.9" y="480.7" font-size="13" fill="#5a9be0" stroke="#5a9be0" stroke-width="0.25" textLength="38" lengthAdjust="spacingAndGlyphs" font-family="Liberation Sans, Noto Sans CJK SC, sans-serif">0.0000</text>
<text x="183.5" y="480.7" font-size="13" fill="#f08234" stroke="#f08234" stroke-width="0.25" textLength="26.2" lengthAdjust="spacingAndGlyphs" font-family="Liberation Sans, Noto Sans CJK SC, sans-serif">DEA:</text>
<text x="212" y="480.7" font-size="13" fill="#f08234" stroke="#f08234" stroke-width="0.25" textLength="37.8" lengthAdjust="spacingAndGlyphs" font-family="Liberation Sans, Noto Sans CJK SC, sans-serif">0.0000</text>
</svg>
</body></html>
